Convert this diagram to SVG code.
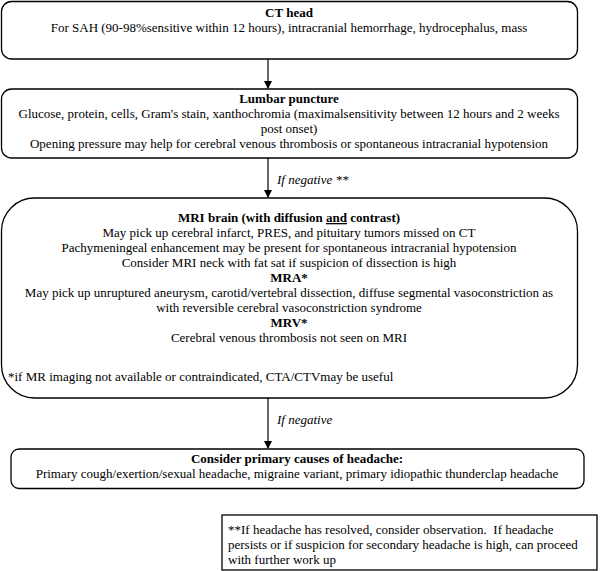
<svg xmlns="http://www.w3.org/2000/svg" width="601" height="571" viewBox="0 0 601 571" font-family="'Liberation Serif', Tinos, 'Times New Roman', 'DejaVu Serif', serif">
<defs>
<marker id="ah" markerWidth="8" markerHeight="8" refX="7" refY="4" orient="auto" markerUnits="userSpaceOnUse">
<path d="M0,0 L8,4 L0,8 Z" fill="#000"/>
</marker>
<style>
.box{fill:#fff;stroke:#000;stroke-width:1.3}
text{font-family:'Liberation Serif', Tinos, 'Times New Roman', 'DejaVu Serif', serif;font-size:13px;fill:#000}
.c{text-anchor:middle}
.b{font-weight:bold}
.i{font-style:italic}
.ln{stroke:#000;stroke-width:1.2;fill:none}
</style>
</defs>
<rect width="601" height="571" fill="#fff"/>
<g id="connectors">
<line class="ln" x1="268" y1="59" x2="268" y2="88" marker-end="url(#ah)"/>
<line class="ln" x1="268" y1="158" x2="268" y2="197" marker-end="url(#ah)"/>
<text class="i" x="277" y="184">If negative **</text>
<line class="ln" x1="268" y1="398" x2="268" y2="448" marker-end="url(#ah)"/>
<text class="i" x="277" y="424">If negative</text>
</g>
<g id="ct">
<rect class="box" x="1.5" y="1.5" width="576" height="57.5" rx="10"/>
<text class="c b" x="289" y="17">CT head</text>
<text class="c" x="289" y="32">For SAH (90-98%sensitive within 12 hours), intracranial hemorrhage, hydrocephalus, mass</text>
</g>
<g id="lp">
<rect class="box" x="1.5" y="89" width="576" height="69" rx="10"/>
<text class="c b" x="289" y="103">Lumbar puncture</text>
<text class="c" x="289" y="118">Glucose, protein, cells, Gram's stain, xanthochromia (maximalsensitivity between 12 hours and 2 weeks</text>
<text class="c" x="289" y="133">post onset)</text>
<text class="c" x="289" y="148">Opening pressure may help for cerebral venous thrombosis or spontaneous intracranial hypotension</text>
</g>
<g id="mri">
<rect class="box" x="1.5" y="198" width="576" height="200" rx="33"/>
<text class="c b" x="289" y="222">MRI brain (with diffusion <tspan text-decoration="underline">and</tspan> contrast)</text>
<text class="c" x="289" y="237">May pick up cerebral infarct, PRES, and pituitary tumors missed on CT</text>
<text class="c" x="289" y="252">Pachymeningeal enhancement may be present for spontaneous intracranial hypotension</text>
<text class="c" x="289" y="267">Consider MRI neck with fat sat if suspicion of dissection is high</text>
<text class="c b" x="289" y="282">MRA*</text>
<text class="c" x="289" y="297">May pick up unruptured aneurysm, carotid/vertebral dissection, diffuse segmental vasoconstriction as</text>
<text class="c" x="289" y="312">with reversible cerebral vasoconstriction syndrome</text>
<text class="c b" x="289" y="327">MRV*</text>
<text class="c" x="289" y="342">Cerebral venous thrombosis not seen on MRI</text>
<text x="8" y="381">*if MR imaging not available or contraindicated, CTA/CTVmay be useful</text>
</g>
<g id="primary">
<rect class="box" x="11" y="449" width="573" height="39.5" rx="8"/>
<text class="c b" x="297" y="463">Consider primary causes of headache:</text>
<text class="c" x="297" y="478">Primary cough/exertion/sexual headache, migraine variant, primary idiopathic thunderclap headache</text>
</g>
<g id="note">
<rect class="box" x="222" y="515" width="375" height="55" rx="0"/>
<text x="228" y="534">**If headache has resolved, consider observation.&#160; If headache</text>
<text x="228" y="549">persists or if suspicion for secondary headache is high, can proceed</text>
<text x="228" y="564">with further work up</text>
</g>
</svg>
